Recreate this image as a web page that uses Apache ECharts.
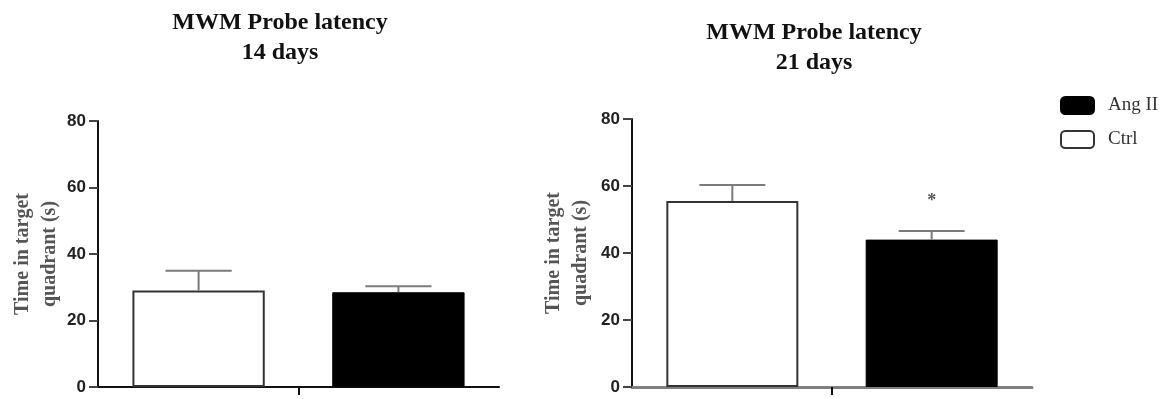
<!DOCTYPE html>
<html>
<head>
<meta charset="utf-8">
<script src="https://cdn.jsdelivr.net/npm/echarts@6/dist/echarts.min.js"></script>
<style>
  html, body { margin: 0; padding: 0; background: #fff; }
  #chart { width: 1176px; height: 399px; }
</style>
</head>
<body>
<div id="chart"></div>
<script>
// Groups and panels
const groups = ['Ctrl', 'Ang II'];
const legendOrder = ['Ang II', 'Ctrl'];
const panelTitles = ['MWM Probe latency\n14 days', 'MWM Probe latency\n21 days'];
const yTicks = [0, 20, 40, 60, 80];

// Time in target quadrant (s), one value per panel (14 d, 21 d)
const ctrlMean = [29, 55.5];
const angMean = [28.5, 44];
// Upper error bar (SEM)
const ctrlSem = [6, 4.8];
const angSem = [1.8, 2.6];
// Significance marks over the Ang II bars
const angSig = ['', '*'];

const BAR_FRAC = 0.33;   // bar width as a share of the category band
const GAP_FRAC = 0.51;   // gap between the two bars as a share of bar width
const serif = '"Liberation Serif", "Times New Roman", serif';
const tickFont = '"Liberation Sans Narrow", "Liberation Sans", Arial, sans-serif';

const grids = [
  { left: 98, width: 401, top: 121, height: 266, outerBoundsMode: 'none', containLabel: false },
  { left: 632, width: 400, top: 119, height: 268, outerBoundsMode: 'none', containLabel: false }
];
const xLine = [
  { color: '#111', width: 2 },
  { color: '#808080', width: 3 }
];
const titleBox = [
  { left: 280, top: 8 },
  { left: 814, top: 18 }
];
const nameGaps = [35, 38];

const chart = echarts.init(document.getElementById('chart'));

const option = {
  animation: false,
  backgroundColor: '#fff',
  title: panelTitles.map((t, i) => ({
    text: t,
    left: titleBox[i].left,
    top: titleBox[i].top,
    textAlign: 'center',
    padding: 0,
    textStyle: {
      fontFamily: serif,
      fontWeight: 'bold',
      fontSize: 24,
      lineHeight: 30,
      color: '#111'
    }
  })),
  legend: {
    data: legendOrder,
    orient: 'vertical',
    left: 1060,
    top: 96,
    padding: 0,
    itemWidth: 33,
    itemHeight: 17,
    itemGap: 15,
    icon: 'roundRect',
    textStyle: {
      fontFamily: serif,
      fontSize: 19,
      color: '#333',
      padding: [0, 0, 0, 9]
    }
  },
  grid: grids,
  xAxis: grids.map((g, i) => ({
    type: 'category',
    gridIndex: i,
    data: [''],
    boundaryGap: true,
    axisLine: { lineStyle: xLine[i] },
    axisTick: {
      show: true,
      alignWithLabel: true,
      length: 8,
      lineStyle: { color: '#111', width: 2 }
    },
    axisLabel: { show: false },
    splitLine: { show: false }
  })),
  yAxis: grids.map((g, i) => ({
    type: 'value',
    gridIndex: i,
    min: yTicks[0],
    max: yTicks[yTicks.length - 1],
    interval: yTicks[1] - yTicks[0],
    axisLine: { show: true, lineStyle: { color: '#111', width: 2 } },
    axisTick: { show: true, length: 9, lineStyle: { color: '#444', width: 2 } },
    axisLabel: {
      margin: 12,
      fontFamily: tickFont,
      fontWeight: 'bold',
      fontSize: 17,
      color: '#222'
    },
    splitLine: { show: false },
    name: 'Time in target\nquadrant (s)',
    nameLocation: 'middle',
    nameRotate: 90,
    nameGap: nameGaps[i],
    nameTextStyle: {
      fontFamily: serif,
      fontWeight: 'bold',
      fontSize: 20,
      lineHeight: 27,
      color: '#555'
    }
  })),
  series: []
};

grids.forEach((g, i) => {
  option.series.push({
    name: groups[0],
    type: 'bar',
    xAxisIndex: i,
    yAxisIndex: i,
    data: [ctrlMean[i]],
    barWidth: (BAR_FRAC * 100) + '%',
    barGap: (GAP_FRAC * 100) + '%',
    itemStyle: { color: '#fff', borderColor: '#333', borderWidth: 2 }
  });
  option.series.push({
    name: groups[1],
    type: 'bar',
    xAxisIndex: i,
    yAxisIndex: i,
    data: [angMean[i]],
    barWidth: (BAR_FRAC * 100) + '%',
    barGap: (GAP_FRAC * 100) + '%',
    itemStyle: { color: '#000', borderColor: '#000', borderWidth: 1 }
  });
  // error bars (upper only) and significance marks
  option.series.push({
    type: 'custom',
    xAxisIndex: i,
    yAxisIndex: i,
    z: 5,
    encode: { x: 0, y: [1, 2] },
    data: [
      [0, ctrlMean[i], ctrlMean[i] + ctrlSem[i], 0],
      [0, angMean[i], angMean[i] + angSem[i], 1]
    ],
    renderItem: function (params, api) {
      const band = api.size([1, 0])[0];
      const bw = band * BAR_FRAC;
      const step = bw * (1 + GAP_FRAC);
      const slot = api.value(3);
      const base = api.coord([api.value(0), api.value(1)]);
      const top = api.coord([api.value(0), api.value(2)]);
      const x = base[0] + (slot - 0.5) * step;
      const half = bw / 4;
      const stroke = { stroke: '#7a7a7a', lineWidth: 2 };
      const children = [
        { type: 'line', shape: { x1: x, y1: base[1], x2: x, y2: top[1] }, style: stroke },
        { type: 'line', shape: { x1: x - half, y1: top[1], x2: x + half, y2: top[1] }, style: stroke }
      ];
      const sig = slot === 1 ? angSig[i] : '';
      if (sig) {
        children.push({
          type: 'text',
          x: x,
          y: top[1] - 21,
          style: {
            text: sig,
            fill: '#555',
            font: 'bold 18px ' + serif,
            align: 'center',
            verticalAlign: 'bottom'
          }
        });
      }
      return { type: 'group', children: children };
    }
  });
});

chart.setOption(option);
</script>
</body>
</html>
